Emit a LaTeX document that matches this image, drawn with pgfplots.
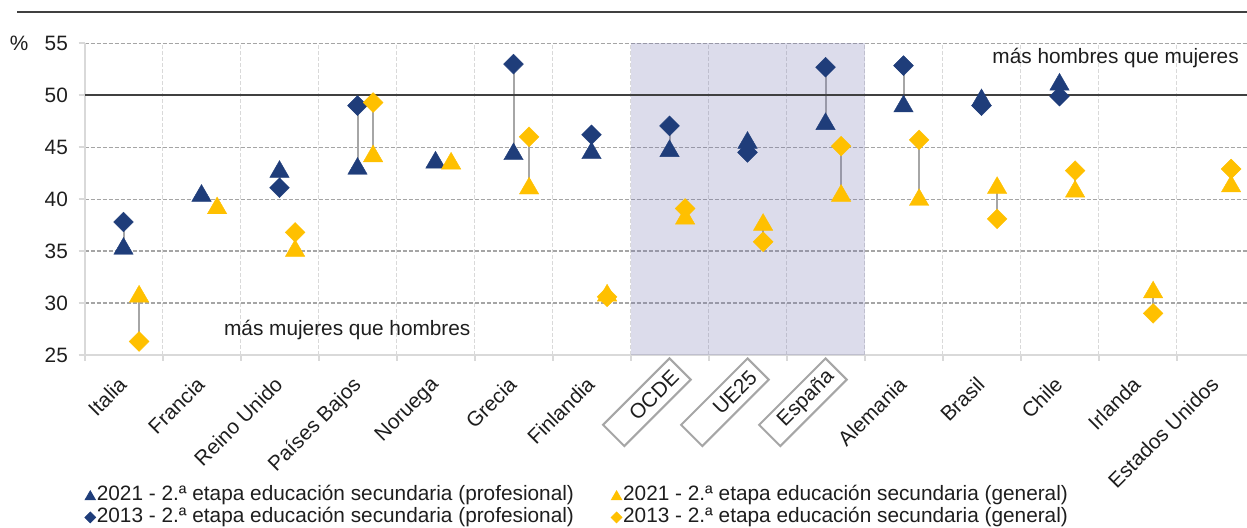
\documentclass[border=0pt]{standalone}
\usepackage{fontspec}
\setmainfont{Liberation Sans}
\usepackage{pgfplots}
\pgfplotsset{compat=1.18}
\usepackage{pgfplotstable}

\definecolor{azul}{RGB}{31,61,122}
\definecolor{amar}{RGB}{255,192,0}
\definecolor{lin}{RGB}{166,166,166}
\definecolor{rej}{RGB}{165,165,165}
\definecolor{rejv}{RGB}{217,217,217}
\definecolor{sombra}{RGB}{115,115,175}
\definecolor{txt}{RGB}{30,30,30}
\definecolor{raya}{RGB}{64,64,64}

% x = categoria; p = profesional, g = general
\pgfplotstableread{
x  p21   p13   g21   g13
0  35.5  37.8  30.9  26.3
1  40.6  nan   39.4  nan
2  42.9  41.1  35.3  36.8
3  43.2  49.0  44.4  49.3
4  43.8  nan   43.7  nan
5  44.6  53.0  41.3  46.0
6  44.7  46.2  31.0  30.6
7  44.9  47.05 38.4  39.1
8  45.7  44.5  37.8  35.9
9  47.5  52.7  40.6  45.1
10 49.2  52.85 40.2  45.7
11 49.8  49.0  41.35 38.1
12 51.3  49.9  41.0  42.75
13 nan   nan   31.3  29.0
14 nan   nan   41.5  42.9
}\datos

\newcommand{\fnt}{\fontsize{10.4}{12.5}\selectfont}
\tikzset{
  lab/.style={rotate=45, anchor=north east, inner sep=0pt, text=txt, font=\fnt},
  caja/.style={lab, draw=lin, line width=1pt, minimum height=15pt, text width=40pt,
    align=right, inner xsep=3.5pt, inner ysep=0pt},
}

\begin{document}
\begin{tikzpicture}
\path[use as bounding box, clip] (0,0) rectangle (623.5pt,264pt);
\begin{axis}[
  at={(42.25pt,86.5pt)}, anchor=south west,
  scale only axis, width=585pt, height=155.85pt,
  xmin=0, xmax=15, ymin=25, ymax=55,
  xtick={0,...,15}, xticklabels={},
  ytick={25,30,...,55},
  axis lines*=left,
  axis line style={-, draw=rejv, line width=1pt},
  tick align=outside, major tick length=3pt,
  tick style={draw=rejv, line width=1pt},
  xmajorgrids, ymajorgrids,
  x grid style={draw=rejv, dash pattern=on 2pt off 1pt, line width=0.5pt},
  y grid style={draw=rej, dash pattern=on 2pt off 1pt, line width=0.6pt},
  tick label style={font=\fnt, text=txt},
  yticklabel style={xshift=-1.8pt},
  /pgf/number format/assume math mode=true,
  clip=false,
  legend columns=2,
  legend style={at={(0,-0.414)}, anchor=north west, draw=none, fill=none,
    inner sep=0pt, font=\fnt, text=txt,
    nodes={inner sep=0.6pt, text height=7.6pt, text depth=2.2pt},
    /tikz/every even column/.append style={column sep=18pt}},
  legend image code/.code={\draw[#1] plot coordinates {(2.8pt,0pt)};},
]
% lineas entre 2013 y 2021
\addplot[only marks, mark=none, forget plot,
  error bars/.cd, y dir=plus, y explicit,
  error bar style={draw=lin, line width=1pt, solid}, error mark=none]
  table[x expr=\thisrow{x}+0.5, y=p13, y error expr=\thisrow{p21}-\thisrow{p13}] {\datos};
\addplot[only marks, mark=none, forget plot,
  error bars/.cd, y dir=plus, y explicit,
  error bar style={draw=lin, line width=1pt, solid}, error mark=none]
  table[x expr=\thisrow{x}+0.7, y=g13, y error expr=\thisrow{g21}-\thisrow{g13}] {\datos};

\addplot[only marks, forget plot, mark=square*, mark size=3.5pt,
  mark options={rotate=45, fill=azul, draw=azul, line width=0.2pt}]
  table[x expr=\thisrow{x}+0.5, y=p13] {\datos};
\addplot[only marks, forget plot, mark=triangle*, mark size=5.6pt,
  mark options={yshift=-1.4pt, fill=azul, draw=azul, line width=0.2pt}]
  table[x expr=\thisrow{x}+0.5, y=p21] {\datos};
\addplot[only marks, forget plot, mark=square*, mark size=3.5pt,
  mark options={rotate=45, fill=amar, draw=amar, line width=0.2pt}]
  table[x expr=\thisrow{x}+0.7, y=g13] {\datos};
\addplot[only marks, forget plot, mark=triangle*, mark size=5.6pt,
  mark options={yshift=-1.4pt, fill=amar, draw=amar, line width=0.2pt}]
  table[x expr=\thisrow{x}+0.7, y=g21] {\datos};

% zona sombreada OCDE, UE25, España
\fill[sombra, opacity=0.25] (axis cs:7,25) rectangle (axis cs:10,55);
% linea del 50 %
\draw[raya, line width=1pt] (axis cs:0,50) -- (axis cs:15,50);

\node[anchor=west, text=txt, font=\fnt] at (axis cs:1.70,27.4) {más mujeres que hombres};
\node[anchor=west, text=txt, font=\fnt] at (axis cs:11.55,53.6) {más hombres que mujeres};

\node[lab] at ([yshift=-10pt]axis cs:0.42,25) {Italia};
\node[lab] at ([yshift=-10pt]axis cs:1.42,25) {Francia};
\node[lab] at ([yshift=-10pt]axis cs:2.42,25) {Reino Unido};
\node[lab] at ([yshift=-10pt]axis cs:3.42,25) {Países Bajos};
\node[lab] at ([yshift=-10pt]axis cs:4.42,25) {Noruega};
\node[lab] at ([yshift=-10pt]axis cs:5.42,25) {Grecia};
\node[lab] at ([yshift=-10pt]axis cs:6.42,25) {Finlandia};
\node[caja] at ([yshift=-1pt]axis cs:7.5,25) {OCDE};
\node[caja] at ([yshift=-1pt]axis cs:8.5,25) {UE25};
\node[caja] at ([yshift=-1pt]axis cs:9.5,25) {España};
\node[lab] at ([yshift=-10pt]axis cs:10.42,25) {Alemania};
\node[lab] at ([yshift=-10pt]axis cs:11.42,25) {Brasil};
\node[lab] at ([yshift=-10pt]axis cs:12.42,25) {Chile};
\node[lab] at ([yshift=-10pt]axis cs:13.42,25) {Irlanda};
\node[lab] at ([yshift=-10pt]axis cs:14.42,25) {Estados Unidos};

\addlegendimage{only marks, mark=triangle*, mark size=3pt, mark options={yshift=-0.7pt}, color=azul}
\addlegendentry{2021 - 2.ª etapa educación secundaria (profesional)}
\addlegendimage{only marks, mark=triangle*, mark size=3pt, mark options={yshift=-0.7pt}, color=amar}
\addlegendentry{2021 - 2.ª etapa educación secundaria (general)}
\addlegendimage{only marks, mark=square*, mark size=1.9pt, mark options={rotate=45}, color=azul}
\addlegendentry{2013 - 2.ª etapa educación secundaria (profesional)}
\addlegendimage{only marks, mark=square*, mark size=1.9pt, mark options={rotate=45}, color=amar}
\addlegendentry{2013 - 2.ª etapa educación secundaria (general)}
\end{axis}
\draw[raya, line width=0.8pt] (8.5pt,258pt) -- (623.5pt,258pt);
\node[text=txt, font=\fnt] at (9.5pt,242.5pt) {\%};
\end{tikzpicture}
\end{document}
